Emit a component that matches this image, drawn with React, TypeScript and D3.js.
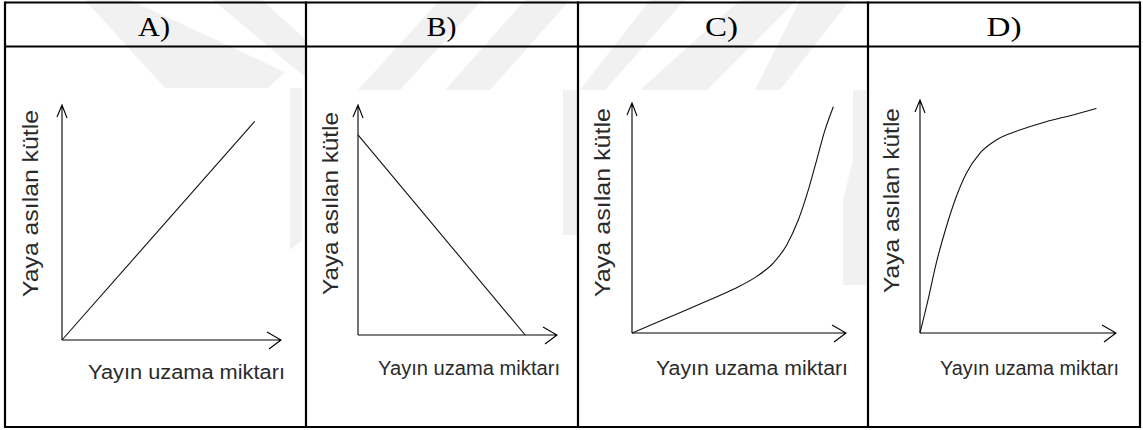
import React, { useEffect, useRef } from "react";
import * as d3 from "d3";

// ---- data (axis units: 0 = origin, 100 = arrow tip) ----
const PANEL_LABELS = ["A)", "B)", "C)", "D)"];
const X_LABEL = "Yayın uzama miktarı";
const Y_LABEL = "Yaya asılan kütle";

const A_X = [0, 88];
const A_Y = [0, 93];

const B_X = [0, 84];
const B_Y = [87, 0];

const C_X = [0, 16.2, 31.8, 47.3, 58.3, 66, 72.3, 77.7, 82.4, 86.3, 90.2, 94.1];
const C_Y = [0, 6.4, 12.6, 19, 24.6, 30.4, 38.3, 49.1, 62.2, 75.2, 88.3, 98.4];

const D_X = [0, 4.1, 8.3, 13.4, 18.5, 23.6, 30.5, 38.9, 50.9, 64.4, 78.1, 90];
const D_Y = [0, 14.2, 30, 45.5, 58.5, 68.5, 77.1, 82.8, 87.1, 90.7, 93.6, 96.4];

const SERIES = [
  { xs: A_X, ys: A_Y, smooth: false },
  { xs: B_X, ys: B_Y, smooth: false },
  { xs: C_X, ys: C_Y, smooth: true },
  { xs: D_X, ys: D_Y, smooth: true },
];

// ---- layout ----
const W = 1143;
const H = 430;
const COLS = [5, 306, 578, 868, 1140];
const HEADER_Y = 46.5;
const TOP_Y = 2.5;
const BOTTOM_Y = 427;

// per panel: origin, arrow tips, label placement
const FRAMES = [
  { ox: 62, oy: 340, xTip: 281, yTip: 105, xl: { x: 88, y: 379, len: 197 }, yl: { x: 38, y: 297, len: 187 }, h: { x: 138, len: 32 } },
  { ox: 358, oy: 335, xTip: 557, yTip: 105, xl: { x: 378, y: 375, len: 182 }, yl: { x: 338, y: 295, len: 183 }, h: { x: 426.5, len: 30 } },
  { ox: 632, oy: 333, xTip: 846, yTip: 103, xl: { x: 656, y: 375, len: 192 }, yl: { x: 610, y: 297, len: 189 }, h: { x: 705, len: 33 } },
  { ox: 920, oy: 333, xTip: 1116, yTip: 100, xl: { x: 940, y: 375, len: 179 }, yl: { x: 899, y: 293, len: 185 }, h: { x: 986.5, len: 35 } },
];

// faint watermark shapes behind the table
const WATERMARK = [
  [[85, 0], [130, 0], [285, 72], [268, 88], [165, 88]],
  [[213, 0], [262, 0], [306, 40], [306, 78]],
  [[290, 88], [302, 88], [302, 240], [290, 250]],
  [[440, 0], [482, 0], [400, 90], [358, 90]],
  [[525, 0], [570, 0], [490, 90], [445, 90]],
  [[563, 90], [577, 90], [577, 235], [563, 235]],
  [[650, 0], [685, 0], [605, 90], [580, 90]],
  [[740, 0], [797, 0], [707, 90], [640, 90]],
  [[800, 0], [850, 0], [780, 90], [755, 90]],
  [[853, 90], [866, 90], [866, 285], [843, 285], [843, 200], [853, 160]],
];

function draw(svgEl: SVGSVGElement) {
  const svg = d3.select(svgEl);
  svg.selectAll("*").remove();

  svg.append("rect").attr("width", W).attr("height", H).attr("fill", "#fff");

  svg.append("g").selectAll("polygon").data(WATERMARK).join("polygon")
    .attr("points", d => d.map(p => p.join(",")).join(" "))
    .attr("fill", "#f1f1f1");

  FRAMES.forEach((f, i) => {
    const x = d3.scaleLinear().domain([0, 100]).range([f.ox, f.xTip]);
    const y = d3.scaleLinear().domain([0, 100]).range([f.oy, f.yTip]);
    const g = svg.append("g");

    // axes with open arrow heads
    const axisPath = d3.path();
    axisPath.moveTo(x(0), y(0)); axisPath.lineTo(x(0), y(100));
    axisPath.moveTo(x(0) - 5, y(100) + 12); axisPath.lineTo(x(0), y(100)); axisPath.lineTo(x(0) + 5, y(100) + 13);
    axisPath.moveTo(x(0), y(0)); axisPath.lineTo(x(100), y(0));
    axisPath.moveTo(x(100) - 14, y(0) - 8); axisPath.lineTo(x(100), y(0)); axisPath.lineTo(x(100) - 12, y(0) + 9);
    g.append("path").attr("d", axisPath.toString())
      .attr("fill", "none").attr("stroke", "#000").attr("stroke-width", 1.1);

    // series
    const s = SERIES[i];
    const pts = s.xs.map((v, k) => [v, s.ys[k]] as [number, number]);
    const line = d3.line<[number, number]>()
      .x(d => x(d[0])).y(d => y(d[1]))
      .curve(s.smooth ? d3.curveMonotoneX : d3.curveLinear);
    g.append("path").attr("d", line(pts))
      .attr("fill", "none").attr("stroke", "#111").attr("stroke-width", 1.1);

    // labels
    g.append("text")
      .attr("x", f.xl.x).attr("y", f.xl.y)
      .attr("font-family", "'Liberation Sans', Arial, sans-serif").attr("font-size", 20)
      .attr("fill", "#2a2a2a")
      .attr("textLength", f.xl.len).attr("lengthAdjust", "spacingAndGlyphs")
      .text(X_LABEL);

    g.append("text")
      .attr("transform", `translate(${f.yl.x},${f.yl.y}) rotate(-90)`)
      .attr("font-family", "'Liberation Sans', Arial, sans-serif").attr("font-size", 22)
      .attr("fill", "#2a2a2a")
      .attr("textLength", f.yl.len).attr("lengthAdjust", "spacingAndGlyphs")
      .text(Y_LABEL);

    svg.append("text")
      .attr("x", f.h.x).attr("y", 36)
      .attr("font-family", "'Liberation Serif', 'Times New Roman', serif").attr("font-size", 27)
      .attr("fill", "#000")
      .attr("textLength", f.h.len).attr("lengthAdjust", "spacingAndGlyphs")
      .text(PANEL_LABELS[i]);
  });

  // table grid
  const grid = svg.append("g").attr("stroke", "#000").attr("stroke-width", 2.2);
  grid.selectAll("line.v").data(COLS).join("line").attr("class", "v")
    .attr("x1", d => d).attr("x2", d => d)
    .attr("y1", TOP_Y - 1.1).attr("y2", BOTTOM_Y + 1.1);
  grid.selectAll("line.h").data([TOP_Y, HEADER_Y, BOTTOM_Y]).join("line").attr("class", "h")
    .attr("x1", COLS[0]).attr("x2", COLS[COLS.length - 1])
    .attr("y1", d => d).attr("y2", d => d);
}

export default function App() {
  const ref = useRef<SVGSVGElement>(null);
  useEffect(() => {
    if (ref.current) draw(ref.current);
  }, []);
  return (
    <svg
      ref={ref}
      width={W}
      height={H}
      style={{ position: "fixed", left: 0, top: 0, display: "block" }}
    />
  );
}
